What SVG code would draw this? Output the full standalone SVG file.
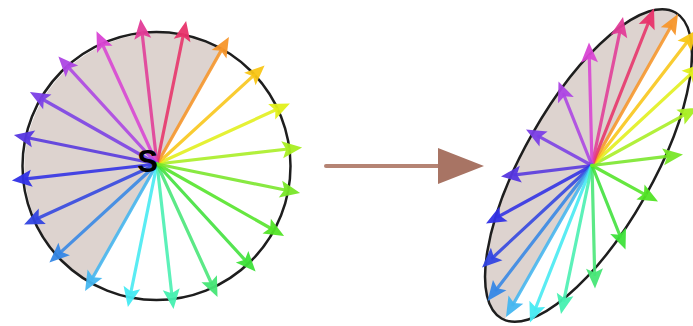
<svg xmlns="http://www.w3.org/2000/svg" xmlns:xlink="http://www.w3.org/1999/xlink" width="693" height="326" viewBox="0 0 693 326">
<style>
.shade{fill:#ddd3cf}
.rim{fill:none;stroke:#1e1e1e;stroke-width:2.5}
.ray{stroke-width:3.2;stroke-linecap:round;opacity:0.88}
.hd{opacity:0.95}
.lbl{font-family:"Liberation Sans",Arial,sans-serif;font-weight:bold;font-size:31px;fill:#000}
</style>
<defs>
<path id="h" d="M0,0 L-20,-8.5 L-16,0 L-20,8.5 Z"/>
<clipPath id="halfR"><polygon points="850,-289 334,620 0,620 0,-289"/></clipPath>
</defs>
<rect width="693" height="326" fill="#fff"/>
<g id="left-disk">
<path class="shade" d="M222.5,49.4 A134,134 0 0 0 90.5,282.6 Z"/>
<circle class="rim" cx="156.5" cy="166" r="134"/>
<g id="left-rays">
<line class="ray" stroke="#a8ee22" x1="157" y1="164" x2="288.1" y2="149.0"/><use href="#h" class="hd" fill="#a8ee22" transform="translate(302.1,147.5) rotate(-6.5)"/>
<line class="ray" stroke="#e2f01a" x1="157" y1="164" x2="277.1" y2="109.3"/><use href="#h" class="hd" fill="#e2f01a" transform="translate(289.9,103.5) rotate(-24.5)"/>
<line class="ray" stroke="#f9c616" x1="157" y1="164" x2="254.3" y2="74.9"/><use href="#h" class="hd" fill="#f9c616" transform="translate(264.6,65.4) rotate(-42.5)"/>
<line class="ray" stroke="#f7962a" x1="157" y1="164" x2="222.0" y2="49.1"/><use href="#h" class="hd" fill="#f7962a" transform="translate(228.9,36.9) rotate(-60.5)"/>
<line class="ray" stroke="#e8336a" x1="157" y1="164" x2="183.3" y2="34.7"/><use href="#h" class="hd" fill="#e8336a" transform="translate(186.1,20.9) rotate(-78.5)"/>
<line class="ray" stroke="#e23c98" x1="157" y1="164" x2="142.1" y2="32.9"/><use href="#h" class="hd" fill="#e23c98" transform="translate(140.5,18.9) rotate(-96.5)"/>
<line class="ray" stroke="#d944d4" x1="157" y1="164" x2="102.3" y2="44.0"/><use href="#h" class="hd" fill="#d944d4" transform="translate(96.5,31.2) rotate(-114.5)"/>
<line class="ray" stroke="#ad44e4" x1="157" y1="164" x2="67.8" y2="66.7"/><use href="#h" class="hd" fill="#ad44e4" transform="translate(58.4,56.4) rotate(-132.5)"/>
<line class="ray" stroke="#7b3fe6" x1="157" y1="164" x2="42.1" y2="99.0"/><use href="#h" class="hd" fill="#7b3fe6" transform="translate(29.9,92.1) rotate(-150.5)"/>
<line class="ray" stroke="#5637e0" x1="157" y1="164" x2="27.6" y2="137.7"/><use href="#h" class="hd" fill="#5637e0" transform="translate(13.9,134.9) rotate(-168.5)"/>
<line class="ray" stroke="#3030e6" x1="157" y1="164" x2="25.9" y2="178.9"/><use href="#h" class="hd" fill="#3030e6" transform="translate(11.9,180.5) rotate(-186.5)"/>
<line class="ray" stroke="#3145e2" x1="157" y1="164" x2="36.9" y2="218.8"/><use href="#h" class="hd" fill="#3145e2" transform="translate(24.1,224.5) rotate(-204.5)"/>
<line class="ray" stroke="#3587e6" x1="157" y1="164" x2="59.7" y2="253.1"/><use href="#h" class="hd" fill="#3587e6" transform="translate(49.4,262.6) rotate(-222.5)"/>
<line class="ray" stroke="#44b6f0" x1="157" y1="164" x2="92.0" y2="278.9"/><use href="#h" class="hd" fill="#44b6f0" transform="translate(85.1,291.1) rotate(-240.5)"/>
<line class="ray" stroke="#44eaf2" x1="157" y1="164" x2="130.7" y2="293.3"/><use href="#h" class="hd" fill="#44eaf2" transform="translate(127.9,307.1) rotate(-258.5)"/>
<line class="ray" stroke="#46f0b0" x1="157" y1="164" x2="171.9" y2="295.1"/><use href="#h" class="hd" fill="#46f0b0" transform="translate(173.5,309.1) rotate(-276.5)"/>
<line class="ray" stroke="#46e676" x1="157" y1="164" x2="211.7" y2="284.0"/><use href="#h" class="hd" fill="#46e676" transform="translate(217.5,296.9) rotate(-294.5)"/>
<line class="ray" stroke="#3ee13a" x1="157" y1="164" x2="246.2" y2="261.3"/><use href="#h" class="hd" fill="#3ee13a" transform="translate(255.6,271.6) rotate(-312.5)"/>
<line class="ray" stroke="#52e426" x1="157" y1="164" x2="271.9" y2="229.0"/><use href="#h" class="hd" fill="#52e426" transform="translate(284.1,235.9) rotate(-330.5)"/>
<line class="ray" stroke="#78e628" x1="157" y1="164" x2="286.4" y2="190.3"/><use href="#h" class="hd" fill="#78e628" transform="translate(300.1,193.1) rotate(-348.5)"/>
</g>
<text class="lbl" x="147.5" y="172" text-anchor="middle">S</text>
</g>
<g id="right-ellipse">
<g clip-path="url(#halfR)">
<ellipse class="shade" cx="588.5" cy="165.5" rx="176" ry="64.5" transform="rotate(-60.4 588.5 165.5)"/>
</g>
<ellipse class="rim" cx="588.5" cy="165.5" rx="176" ry="64.5" transform="rotate(-60.4 588.5 165.5)"/>
<g id="right-rays">
<line class="ray" stroke="#a8ee22" x1="592" y1="165.5" x2="685.7" y2="114.2"/><use href="#h" class="hd" fill="#a8ee22" transform="translate(698,107.5) rotate(-28.7)"/>
<line class="ray" stroke="#e2f01a" x1="592" y1="165.5" x2="691.7" y2="73.1"/><use href="#h" class="hd" fill="#e2f01a" transform="translate(702,63.5) rotate(-42.8)"/>
<line class="ray" stroke="#f9c616" x1="592" y1="165.5" x2="687.9" y2="41.1"/><use href="#h" class="hd" fill="#f9c616" transform="translate(696.5,30) rotate(-52.4)"/>
<line class="ray" stroke="#f7962a" x1="592" y1="165.5" x2="671.1" y2="26.2"/><use href="#h" class="hd" fill="#f7962a" transform="translate(678,14) rotate(-60.4)"/>
<line class="ray" stroke="#e8336a" x1="592" y1="165.5" x2="648.9" y2="21.5"/><use href="#h" class="hd" fill="#e8336a" transform="translate(654,8.5) rotate(-68.5)"/>
<line class="ray" stroke="#e23c98" x1="592" y1="165.5" x2="620.1" y2="30.7"/><use href="#h" class="hd" fill="#e23c98" transform="translate(623,17) rotate(-78.2)"/>
<line class="ray" stroke="#d944d4" x1="592" y1="165.5" x2="589.3" y2="56.5"/><use href="#h" class="hd" fill="#d944d4" transform="translate(589,42.5) rotate(-91.4)"/>
<line class="ray" stroke="#ad44e4" x1="592" y1="165.5" x2="563.7" y2="94.5"/><use href="#h" class="hd" fill="#ad44e4" transform="translate(558.5,81.5) rotate(-111.7)"/>
<line class="ray" stroke="#7b3fe6" x1="592" y1="165.5" x2="538.3" y2="136.2"/><use href="#h" class="hd" fill="#7b3fe6" transform="translate(526,129.5) rotate(-151.4)"/>
<line class="ray" stroke="#5637e0" x1="592" y1="165.5" x2="514.9" y2="174.8"/><use href="#h" class="hd" fill="#5637e0" transform="translate(501,176.5) rotate(173.1)"/>
<line class="ray" stroke="#3030e6" x1="592" y1="165.5" x2="498.3" y2="216.7"/><use href="#h" class="hd" fill="#3030e6" transform="translate(486,223.5) rotate(151.3)"/>
<line class="ray" stroke="#3145e2" x1="592" y1="165.5" x2="492.3" y2="258.0"/><use href="#h" class="hd" fill="#3145e2" transform="translate(482,267.5) rotate(137.2)"/>
<line class="ray" stroke="#3587e6" x1="592" y1="165.5" x2="496.0" y2="289.9"/><use href="#h" class="hd" fill="#3587e6" transform="translate(487.5,301) rotate(127.6)"/>
<line class="ray" stroke="#44b6f0" x1="592" y1="165.5" x2="512.9" y2="304.8"/><use href="#h" class="hd" fill="#44b6f0" transform="translate(506,317) rotate(119.6)"/>
<line class="ray" stroke="#44eaf2" x1="592" y1="165.5" x2="535.1" y2="309.5"/><use href="#h" class="hd" fill="#44eaf2" transform="translate(530,322.5) rotate(111.5)"/>
<line class="ray" stroke="#46f0b0" x1="592" y1="165.5" x2="563.9" y2="300.3"/><use href="#h" class="hd" fill="#46f0b0" transform="translate(561,314) rotate(101.8)"/>
<line class="ray" stroke="#46e676" x1="592" y1="165.5" x2="594.7" y2="274.5"/><use href="#h" class="hd" fill="#46e676" transform="translate(595,288.5) rotate(88.6)"/>
<line class="ray" stroke="#3ee13a" x1="592" y1="165.5" x2="620.3" y2="236.5"/><use href="#h" class="hd" fill="#3ee13a" transform="translate(625.5,249.5) rotate(68.3)"/>
<line class="ray" stroke="#52e426" x1="592" y1="165.5" x2="645.7" y2="194.8"/><use href="#h" class="hd" fill="#52e426" transform="translate(658,201.5) rotate(28.6)"/>
<line class="ray" stroke="#78e628" x1="592" y1="165.5" x2="669.1" y2="156.2"/><use href="#h" class="hd" fill="#78e628" transform="translate(683,154.5) rotate(-6.9)"/>
</g>
</g>
<g id="connectors">
<line x1="326" y1="166" x2="442" y2="166" stroke="#b58474" stroke-width="4" stroke-linecap="round"/>
<polygon points="438,148 484,166 438,184" fill="#a87464"/>
</g>
</svg>
